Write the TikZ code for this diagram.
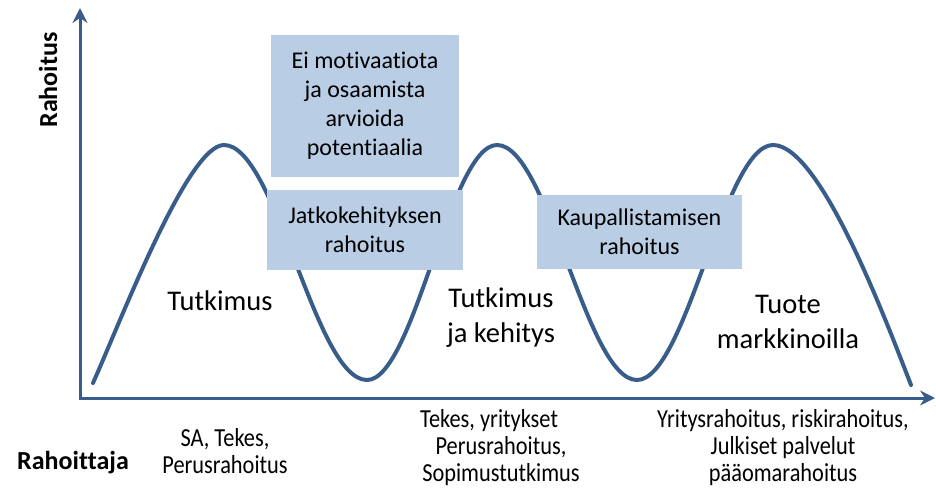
\documentclass[tikz,border=0pt]{standalone}
\usepackage{fontspec}
\setmainfont{Carlito}[Ligatures=NoCommon]
\newfontfamily\narrowfont[FakeStretch=0.86,Ligatures=NoCommon]{Carlito}
\usetikzlibrary{arrows.meta}
\definecolor{curveblue}{RGB}{56,93,138}
\definecolor{boxblue}{RGB}{185,205,229}
\begin{document}
\begin{tikzpicture}[x=1pt,y=-1pt,
  infobox/.style={fill=boxblue, inner sep=0pt, align=center,
    font=\fontsize{24}{29}\selectfont},
  phase/.style={align=center, inner sep=0pt, font=\fontsize{28.5}{35}\selectfont},
  funder/.style={align=center, inner sep=0pt, font=\narrowfont\fontsize{26}{27}\selectfont},
  axislabel/.style={inner sep=0pt, font=\bfseries\fontsize{26}{30}\selectfont},
  axis/.style={curveblue, line width=3pt,
    {Stealth[length=15pt,width=15pt,inset=5pt]}-{Stealth[length=15pt,width=15pt,inset=5pt]}},
  wave/.style={curveblue, line width=4pt, line cap=round}]
\useasboundingbox (0,0) rectangle (936,491);

% axes
\coordinate (ytip) at (80,8);
\coordinate (xtip) at (935,398);
\draw[axis] (ytip) |- (xtip);

% funding curve
\coordinate (w0) at (93,383);
\coordinate (p1) at (224,145);
\coordinate (t1) at (367,380);
\coordinate (p2) at (497,145);
\coordinate (t2) at (637,380);
\coordinate (p3) at (773,145);
\coordinate (w1) at (911,385);
\draw[wave] (w0) .. controls (122,318) and (188,145) .. (p1)
  .. controls (276,145) and (315,380) .. (t1)
  .. controls (414,380) and (450,145) .. (p2)
  .. controls (548,145) and (586,380) .. (t2)
  .. controls (686,380) and (724,145) .. (p3)
  .. controls (820,145) and (885,318) .. (w1);

% gap boxes
\node[infobox, minimum width=188pt, minimum height=142pt] (nomotiv) at (365,106)
  {Ei motivaatiota\\ja osaamista\\arvioida\\potentiaalia};
\node[infobox, minimum width=196pt, minimum height=80pt] (jatko) at (365,230)
  {Jatkokehityksen\\rahoitus};
\node[infobox, minimum width=205pt, minimum height=74pt] (kaupall) at (639.5,232)
  {Kaupallistamisen\\rahoitus};

% phase labels (base = baseline of the last line)
\node[phase, anchor=base] (tutk) at (220,310) {Tutkimus};
\node[phase, anchor=base] (tk) at (501,342) {Tutkimus\\ja kehitys};
\node[phase, anchor=base] (tuote) at (788,348) {Tuote\\markkinoilla};

% axis labels
\node[axislabel, rotate=90] (yaxlabel) at (48,80) {Rahoitus};
\node[axislabel, anchor=base] (rahoittaja) at (73,469) {Rahoittaja};

% funders
\node[funder, anchor=base] (f1) at (225,473) {SA, Tekes,\\Perusrahoitus};
\node[funder, anchor=base] (f2) at (501,481) {Tekes, yritykset\hspace*{24pt}\\Perusrahoitus,\\Sopimustutkimus};
\node[funder, anchor=base] (f3) at (783,481) {Yritysrahoitus, riskirahoitus,\\Julkiset palvelut\\pääomarahoitus};
\end{tikzpicture}
\end{document}
